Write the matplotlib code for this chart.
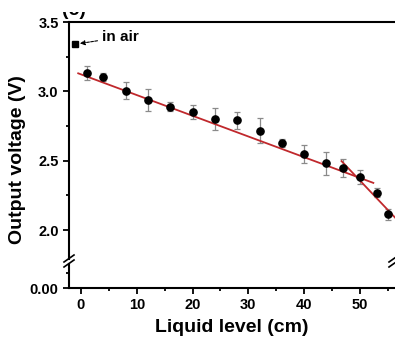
import matplotlib
matplotlib.use("Agg")
import matplotlib.pyplot as plt
from matplotlib.lines import Line2D
from matplotlib.patches import Rectangle
from matplotlib.ticker import MultipleLocator, FixedLocator

plt.rcParams['font.family'] = ['Liberation Sans', 'DejaVu Sans']
plt.rcParams['font.weight'] = 'bold'

# ---- data ----
level = [1, 4, 8, 12, 16, 20, 24, 28, 32, 36, 40, 44, 47, 50, 53, 55]
voltage = [3.13, 3.105, 3.005, 2.94, 2.89, 2.85, 2.80, 2.79, 2.715, 2.63,
           2.545, 2.48, 2.45, 2.38, 2.27, 2.115]
err = [0.05, 0.03, 0.06, 0.08, 0.03, 0.05, 0.08, 0.06, 0.09, 0.03,
       0.065, 0.08, 0.065, 0.05, 0.03, 0.04]
air_level = [-1.07]
air_voltage = [3.34]
fit1_x = [-0.5, 52.4]
fit1_y = [3.13, 2.34]
fit2_x = [46.7, 57.0]
fit2_y = [2.497, 2.06]
xticks = [0, 10, 20, 30, 40, 50]
yticks_top = [2.0, 2.5, 3.0, 3.5]
ytick_labels_top = ['2.0', '2.5', '3.0', '3.5']
yticks_low = [0.0]
ytick_labels_low = ['0.00']

W, H = 395, 338
fig = plt.figure(figsize=(W / 100, H / 100), dpi=100)
fig.patch.set_facecolor('white')

def fx(px):
    return px / W

def fy(py):
    return (H - py) / H

L, R = 69, 399
top_t, top_b = 22, 258.5
low_t, low_b = 263.5, 288

ax = fig.add_axes([fx(L), fy(top_b), fx(R - L), (top_b - top_t) / H])
axl = fig.add_axes([fx(L), fy(low_b), fx(R - L), (low_b - low_t) / H], sharex=ax)

ppv = 138.7
ax.set_ylim(3.5 - (top_b - top_t) / ppv, 3.5)
axl.set_ylim(0, 0.1 * (low_b - low_t) / 15.0)
ax.set_xlim(-2.15, 57.0)

red = '#c0282c'
ax.errorbar(level, voltage, yerr=err, fmt='none', ecolor='#8a8a8a',
            elinewidth=0.9, capsize=2.5, capthick=0.9, zorder=2)
ax.plot(fit1_x, fit1_y, color=red, lw=1.3, zorder=3)
ax.plot(fit2_x, fit2_y, color=red, lw=1.3, zorder=3)
ax.plot(level, voltage, 'o', color='black', ms=5.2, zorder=4)
ax.plot(air_level, air_voltage, 's', color='black', ms=4.0, zorder=4)

ax.annotate('in air', xy=(-0.2, 3.345), xytext=(3.7, 3.39),
            fontsize=11, fontweight='bold', va='center', ha='left',
            arrowprops=dict(arrowstyle='-|>', color='black', lw=0.8,
                            ls=(0, (2.5, 1.2)), mutation_scale=7,
                            shrinkA=1, shrinkB=0))

lw_sp = 1.5
for a in (ax, axl):
    for s in a.spines.values():
        s.set_linewidth(lw_sp)
ax.spines['right'].set_visible(False)
ax.spines['bottom'].set_visible(False)
axl.spines['right'].set_visible(False)
axl.spines['top'].set_visible(False)

ax.set_yticks(yticks_top)
ax.set_yticklabels(ytick_labels_top)
ax.yaxis.set_minor_locator(MultipleLocator(0.25))
ax.tick_params(axis='x', which='both', bottom=False, top=False, labelbottom=False)
ax.tick_params(axis='y', which='major', direction='out', length=4.5, width=1.3,
               labelsize=10.5, pad=3)
ax.tick_params(axis='y', which='minor', direction='out', length=2.5, width=1.3)

axl.set_yticks(yticks_low)
axl.set_yticklabels(ytick_labels_low)
axl.yaxis.set_minor_locator(FixedLocator([0.1]))
axl.set_xticks(xticks)
axl.xaxis.set_minor_locator(MultipleLocator(5))
axl.tick_params(axis='both', which='major', direction='out', length=4.5, width=1.3,
                labelsize=10.5, pad=3)
axl.tick_params(axis='both', which='minor', direction='out', length=2.5, width=1.3)
for t in ax.get_yticklabels() + axl.get_yticklabels() + axl.get_xticklabels():
    t.set_fontweight('bold')

# axis break marks
for cx in (69, 394):
    for cy in (258.5, 263.5):
        fig.add_artist(Line2D([fx(cx - 5), fx(cx + 5)], [fy(cy + 3.5), fy(cy - 3.5)],
                              transform=fig.transFigure, color='black', lw=1.2))

fig.text(fx(232), fy(327), 'Liquid level (cm)', fontsize=14, fontweight='bold',
         ha='center', va='center')
fig.text(fx(18), fy(160), 'Output voltage (V)', fontsize=14, fontweight='bold',
         ha='center', va='center', rotation=90)

# panel label, mostly cut off at the top edge of the picture
fig.text(fx(62), fy(15), '(c)', fontsize=14, fontweight='bold',
         ha='left', va='baseline', zorder=3)
fig.add_artist(Rectangle((0, fy(12)), 1, 1 - fy(12), transform=fig.transFigure,
                         facecolor='white', edgecolor='none', zorder=10))

fig.savefig('out.png', dpi=100, facecolor='white')
